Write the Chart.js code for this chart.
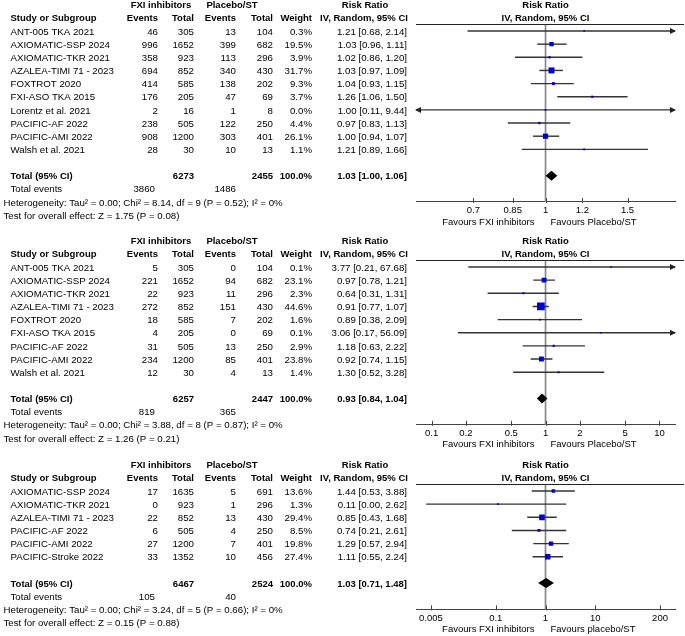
<!DOCTYPE html>
<html>
<head>
<meta charset="utf-8">
<script src="https://cdn.jsdelivr.net/npm/chart.js@4.4.1/dist/chart.umd.min.js"></script>
<style>
  html, body { margin: 0; padding: 0; background: #fff; }
  #wrap { position: relative; width: 685px; height: 636px; overflow: hidden; background: #fff; }
  #wrap canvas { position: absolute; left: 0; }
</style>
</head>
<body>
<div id="wrap">
  <canvas id="p1" width="685" height="232" style="top:0px"></canvas>
  <canvas id="p2" width="685" height="224" style="top:236px"></canvas>
  <canvas id="p3" width="685" height="176" style="top:460px"></canvas>
</div>
<script>
// ---- Panel 1 ----
const studies1 = ['ANT-005 TKA 2021', 'AXIOMATIC-SSP 2024', 'AXIOMATIC-TKR 2021', 'AZALEA-TIMI 71 - 2023', 'FOXTROT 2020',
    'FXI-ASO TKA 2015', 'Lorentz et al. 2021', 'PACIFIC-AF 2022', 'PACIFIC-AMI 2022', 'Walsh et al. 2021'];
const fxiEvents1 = [46, 996, 358, 694, 414, 176, 2, 238, 908, 28];
const fxiTotal1 = [305, 1652, 923, 852, 585, 205, 16, 505, 1200, 30];
const plcEvents1 = [13, 399, 113, 340, 138, 47, 1, 122, 303, 10];
const plcTotal1 = [104, 682, 296, 430, 202, 69, 8, 250, 401, 13];
const weight1 = [0.3, 19.5, 3.9, 31.7, 9.3, 3.7, 0.0, 4.4, 26.1, 1.1];
const rr1 = [1.21, 1.03, 1.02, 1.03, 1.04, 1.26, 1.00, 0.97, 1.00, 1.21];
const lo1 = [0.68, 0.96, 0.86, 0.97, 0.93, 1.06, 0.11, 0.83, 0.94, 0.89];
const hi1 = [2.14, 1.11, 1.20, 1.09, 1.15, 1.50, 9.44, 1.13, 1.07, 1.66];
const total1 = [6273, 2455];          // FXI total, placebo total
const totalEvents1 = [3860, 1486];
const pooled1 = [1.03, 1.00, 1.06];   // RR, lower, upper
const ticks1 = [0.7, 0.85, 1, 1.2, 1.5];
const range1 = [0.527, 1.897];
const het1 = 'Heterogeneity: Tau\u00b2 = 0.00; Chi\u00b2 = 8.14, df = 9 (P = 0.52); I\u00b2 = 0%';
const effect1 = 'Test for overall effect: Z = 1.75 (P = 0.08)';
const favours1 = ['Favours FXI inhibitors', 'Favours Placebo/ST'];

// ---- Panel 2 ----
const studies2 = ['ANT-005 TKA 2021', 'AXIOMATIC-SSP 2024', 'AXIOMATIC-TKR 2021', 'AZALEA-TIMI 71 - 2023', 'FOXTROT 2020',
    'FXI-ASO TKA 2015', 'PACIFIC-AF 2022', 'PACIFIC-AMI 2022', 'Walsh et al. 2021'];
const fxiEvents2 = [5, 221, 22, 272, 18, 4, 31, 234, 12];
const fxiTotal2 = [305, 1652, 923, 852, 585, 205, 505, 1200, 30];
const plcEvents2 = [0, 94, 11, 151, 7, 0, 13, 85, 4];
const plcTotal2 = [104, 682, 296, 430, 202, 69, 250, 401, 13];
const weight2 = [0.1, 23.1, 2.3, 44.6, 1.6, 0.1, 2.9, 23.8, 1.4];
const rr2 = [3.77, 0.97, 0.64, 0.91, 0.89, 3.06, 1.18, 0.92, 1.30];
const lo2 = [0.21, 0.78, 0.31, 0.77, 0.38, 0.17, 0.63, 0.74, 0.52];
const hi2 = [67.68, 1.21, 1.31, 1.07, 2.09, 56.09, 2.22, 1.15, 3.28];
const total2 = [6257, 2447];
const totalEvents2 = [819, 365];
const pooled2 = [0.93, 0.84, 1.04];
const ticks2 = [0.1, 0.2, 0.5, 1, 2, 5, 10];
const range2 = [0.0729, 13.7];
const het2 = 'Heterogeneity: Tau\u00b2 = 0.00; Chi\u00b2 = 3.88, df = 8 (P = 0.87); I\u00b2 = 0%';
const effect2 = 'Test for overall effect: Z = 1.26 (P = 0.21)';
const favours2 = ['Favours FXI inhibitors', 'Favours Placebo/ST'];

// ---- Panel 3 ----
const studies3 = ['AXIOMATIC-SSP 2024', 'AXIOMATIC-TKR 2021', 'AZALEA-TIMI 71 - 2023', 'PACIFIC-AF 2022',
    'PACIFIC-AMI 2022', 'PACIFIC-Stroke 2022'];
const fxiEvents3 = [17, 0, 22, 6, 27, 33];
const fxiTotal3 = [1635, 923, 852, 505, 1200, 1352];
const plcEvents3 = [5, 1, 13, 4, 7, 10];
const plcTotal3 = [691, 296, 430, 250, 401, 456];
const weight3 = [13.6, 1.3, 29.4, 8.5, 19.8, 27.4];
const rr3 = [1.44, 0.11, 0.85, 0.74, 1.29, 1.11];
const lo3 = [0.53, 0.004, 0.43, 0.21, 0.57, 0.55];
const hi3 = [3.88, 2.62, 1.68, 2.61, 2.94, 2.24];
const total3 = [6467, 2524];
const totalEvents3 = [105, 40];
const pooled3 = [1.03, 0.71, 1.48];
const ticks3 = [0.005, 0.1, 1, 10, 200];
const range3 = [0.0025, 400];
const het3 = 'Heterogeneity: Tau\u00b2 = 0.00; Chi\u00b2 = 3.24, df = 5 (P = 0.66); I\u00b2 = 0%';
const effect3 = 'Test for overall effect: Z = 0.15 (P = 0.88)';
const favours3 = ['Favours FXI inhibitors', 'Favours placebo/ST'];

// ---- Layout ----
const ROW_H = 13.15;
const FIRST_ROW = 31;
const PLOT_L = 416, PLOT_R = 675;
const FONT = "'Liberation Sans', Arial, sans-serif";
const REG = '9.7px ' + FONT;
const BOLD = 'bold 9.5px ' + FONT;
const SMALL = '9.5px ' + FONT;
const TXT_DY = 1;   // canvas 'middle' sits a touch high

// column anchors of the table
const COL = { study: 10.5, fxiEv: 158, fxiTot: 194, plcEv: 236, plcTot: 273, weight: 312, rr: 407, left: 3.5 };

const fmt = v => v.toFixed(2);
const ciText = (r, l, h) => fmt(r) + ' [' + fmt(l) + ', ' + fmt(h) + ']';

function buildPanel(canvasId, p) {
    const canvas = document.getElementById(canvasId);
    const H = canvas.height;
    const n = p.studies.length;
    const totalRow = n + 1;
    const axisRow = n + 3;
    const axisY = FIRST_ROW + axisRow * ROW_H;
    const [xMin, xMax] = p.range;

    const ciSets = p.studies.map((s, i) => ({
        showLine: true,
        data: [{ x: Math.max(p.lo[i], xMin), y: i }, { x: Math.min(p.hi[i], xMax), y: i }],
        borderColor: '#333',
        borderWidth: 1.4,
        pointRadius: 0,
        order: 2
    }));

    const squares = {
        data: p.rr.map((v, i) => ({ x: v, y: i })),
        pointStyle: 'rect',
        pointRadius: p.weight.map(w => (1.7 + 0.135 * w) / Math.SQRT2),
        pointBackgroundColor: '#0000cc',
        pointBorderWidth: 0,
        showLine: false,
        order: 0
    };

    const forestPlugin = {
        id: 'forest' + canvasId,
        beforeDatasetsDraw(chart) {
            const { ctx, chartArea } = chart;
            const xs = chart.scales.x;
            const x1 = xs.getPixelForValue(1);
            ctx.save();
            // line of no effect
            ctx.strokeStyle = '#888';
            ctx.lineWidth = 1.7;
            ctx.beginPath();
            ctx.moveTo(x1, chartArea.top);
            ctx.lineTo(x1, axisY);
            ctx.stroke();
            // header rule
            ctx.strokeStyle = '#222';
            ctx.lineWidth = 1;
            ctx.beginPath();
            ctx.moveTo(PLOT_L, Math.round(chartArea.top) + 0.5);
            ctx.lineTo(684, Math.round(chartArea.top) + 0.5);
            ctx.stroke();
            ctx.restore();
        },
        afterDatasetsDraw(chart) {
            const { ctx } = chart;
            const xs = chart.scales.x, ys = chart.scales.y;
            ctx.save();
            // arrows for intervals running off the axis
            ctx.fillStyle = '#222';
            p.studies.forEach((s, i) => {
                const y = ys.getPixelForValue(i);
                if (p.hi[i] > xMax) {
                    const x = xs.getPixelForValue(xMax);
                    ctx.beginPath();
                    ctx.moveTo(x + 1, y);
                    ctx.lineTo(x - 5, y - 3);
                    ctx.lineTo(x - 5, y + 3);
                    ctx.closePath();
                    ctx.fill();
                }
                if (p.lo[i] < xMin) {
                    const x = xs.getPixelForValue(xMin);
                    ctx.beginPath();
                    ctx.moveTo(x - 1, y);
                    ctx.lineTo(x + 5, y - 3);
                    ctx.lineTo(x + 5, y + 3);
                    ctx.closePath();
                    ctx.fill();
                }
            });
            // pooled diamond
            const yd = ys.getPixelForValue(totalRow);
            const xl = xs.getPixelForValue(p.pooled[1]);
            const xe = xs.getPixelForValue(p.pooled[0]);
            const xh = xs.getPixelForValue(p.pooled[2]);
            ctx.fillStyle = '#000';
            ctx.beginPath();
            ctx.moveTo(xl, yd);
            ctx.lineTo(xe, yd - 5);
            ctx.lineTo(xh, yd);
            ctx.lineTo(xe, yd + 5);
            ctx.closePath();
            ctx.fill();
            ctx.restore();
        },
        afterDraw(chart) {
            const { ctx } = chart;
            const xs = chart.scales.x, ys = chart.scales.y;
            const x1 = xs.getPixelForValue(1);
            const rowY = r => ys.getPixelForValue(r) + TXT_DY;
            const txt = (t, x, y, align, font) => {
                ctx.font = font;
                ctx.textAlign = align;
                ctx.fillText(t, x, y);
            };
            ctx.save();
            ctx.fillStyle = '#000';
            ctx.textBaseline = 'middle';

            // axis tick marks (pointing up)
            ctx.strokeStyle = '#444';
            ctx.lineWidth = 1;
            xs.ticks.forEach(t => {
                const x = Math.round(xs.getPixelForValue(t.value)) + 0.5;
                ctx.beginPath();
                ctx.moveTo(x, axisY - 4);
                ctx.lineTo(x, axisY + 1);
                ctx.stroke();
            });

            // headers
            const h1 = rowY(-2), h2 = rowY(-1);
            txt('FXI inhibitors', 161, h1, 'center', BOLD);
            txt('Placebo/ST', 232, h1, 'center', BOLD);
            txt('Risk Ratio', 365, h1, 'center', BOLD);
            txt('Risk Ratio', x1, h1, 'center', BOLD);
            txt('Study or Subgroup', COL.study, h2, 'left', BOLD);
            txt('Events', COL.fxiEv, h2, 'right', BOLD);
            txt('Total', COL.fxiTot, h2, 'right', BOLD);
            txt('Events', COL.plcEv, h2, 'right', BOLD);
            txt('Total', COL.plcTot, h2, 'right', BOLD);
            txt('Weight', COL.weight, h2, 'right', BOLD);
            txt('IV, Random, 95% CI', 364, h2, 'center', BOLD);
            txt('IV, Random, 95% CI', x1, h2, 'center', BOLD);

            // study rows
            p.studies.forEach((s, i) => {
                const y = rowY(i);
                txt(s, COL.study, y, 'left', REG);
                txt(String(p.fxiEvents[i]), COL.fxiEv, y, 'right', REG);
                txt(String(p.fxiTotal[i]), COL.fxiTot, y, 'right', REG);
                txt(String(p.plcEvents[i]), COL.plcEv, y, 'right', REG);
                txt(String(p.plcTotal[i]), COL.plcTot, y, 'right', REG);
                txt(p.weight[i].toFixed(1) + '%', COL.weight, y, 'right', REG);
                txt(ciText(p.rr[i], p.lo[i], p.hi[i]), COL.rr, y, 'right', REG);
            });

            // totals
            const yt = rowY(totalRow);
            txt('Total (95% CI)', COL.study, yt, 'left', BOLD);
            txt(String(p.total[0]), COL.fxiTot, yt, 'right', BOLD);
            txt(String(p.total[1]), COL.plcTot, yt, 'right', BOLD);
            txt('100.0%', COL.weight, yt, 'right', BOLD);
            txt(ciText(p.pooled[0], p.pooled[1], p.pooled[2]), COL.rr, yt, 'right', BOLD);

            const ye = rowY(totalRow + 1);
            txt('Total events', COL.study, ye, 'left', REG);
            txt(String(p.totalEvents[0]), COL.fxiEv - 3, ye, 'right', REG);
            txt(String(p.totalEvents[1]), COL.plcEv, ye, 'right', REG);
            txt(p.het, COL.left, rowY(totalRow + 2), 'left', REG);
            txt(p.effect, COL.left, rowY(totalRow + 3), 'left', REG);

            // favours labels under the axis
            const yf = axisY + 20;
            txt(p.favours[0], x1 - 11, yf, 'right', SMALL);
            txt(p.favours[1], x1 + 5, yf, 'left', SMALL);
            ctx.restore();
        }
    };

    return new Chart(canvas, {
        type: 'scatter',
        data: { datasets: [squares, ...ciSets] },
        options: {
            responsive: false,
            animation: false,
            devicePixelRatio: 1,
            events: [],
            layout: { padding: { left: PLOT_L, right: 685 - PLOT_R, top: FIRST_ROW - 0.53 * ROW_H, bottom: 0 } },
            plugins: { legend: { display: false }, tooltip: { enabled: false } },
            scales: {
                x: {
                    type: 'logarithmic',
                    min: xMin,
                    max: xMax,
                    bounds: 'data',
                    afterBuildTicks: scale => { scale.ticks = p.ticks.map(v => ({ value: v })); },
                    afterFit: scale => { scale.height = H - axisY; },
                    border: { display: true, color: '#444', width: 1 },
                    grid: { display: true, drawOnChartArea: false, drawTicks: false },
                    ticks: {
                        autoSkip: false,
                        maxRotation: 0,
                        minRotation: 0,
                        padding: 3,
                        color: '#000',
                        font: { family: FONT, size: 9.5 },
                        callback: v => String(v)
                    }
                },
                y: {
                    type: 'linear',
                    reverse: true,
                    min: -0.53,
                    max: axisRow,
                    display: false
                }
            }
        },
        plugins: [forestPlugin]
    });
}

buildPanel('p1', {
    studies: studies1, fxiEvents: fxiEvents1, fxiTotal: fxiTotal1, plcEvents: plcEvents1, plcTotal: plcTotal1,
    weight: weight1, rr: rr1, lo: lo1, hi: hi1, total: total1, totalEvents: totalEvents1, pooled: pooled1,
    ticks: ticks1, range: range1, het: het1, effect: effect1, favours: favours1
});
buildPanel('p2', {
    studies: studies2, fxiEvents: fxiEvents2, fxiTotal: fxiTotal2, plcEvents: plcEvents2, plcTotal: plcTotal2,
    weight: weight2, rr: rr2, lo: lo2, hi: hi2, total: total2, totalEvents: totalEvents2, pooled: pooled2,
    ticks: ticks2, range: range2, het: het2, effect: effect2, favours: favours2
});
buildPanel('p3', {
    studies: studies3, fxiEvents: fxiEvents3, fxiTotal: fxiTotal3, plcEvents: plcEvents3, plcTotal: plcTotal3,
    weight: weight3, rr: rr3, lo: lo3, hi: hi3, total: total3, totalEvents: totalEvents3, pooled: pooled3,
    ticks: ticks3, range: range3, het: het3, effect: effect3, favours: favours3
});
</script>
</body>
</html>
